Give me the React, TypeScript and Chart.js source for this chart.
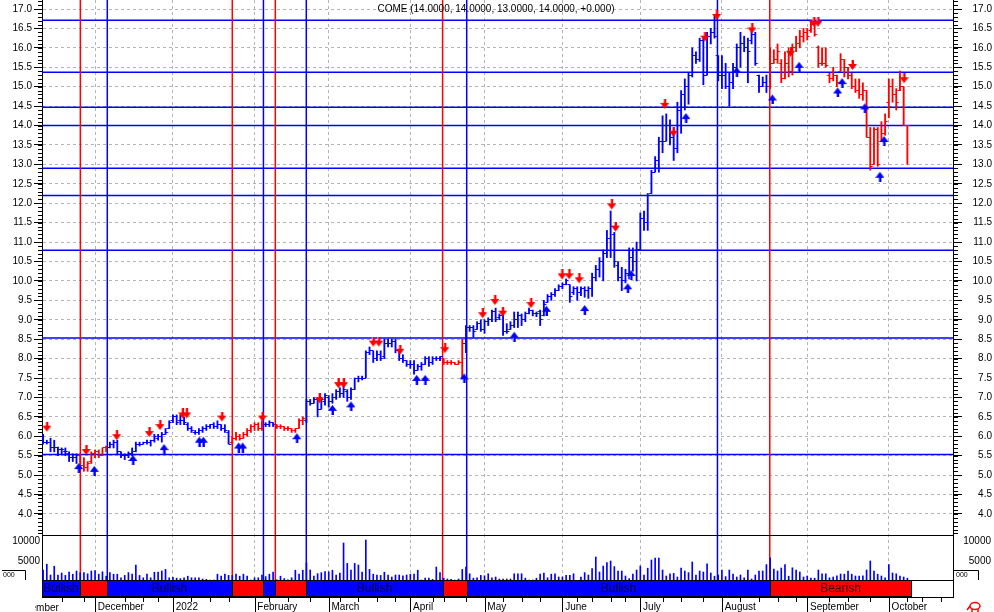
import React, { useEffect, useRef } from 'react';
import { Chart, registerables } from 'chart.js';

Chart.register(...registerables);

// ---------------- DATA ----------------
const opens = [
  5.85,5.85,5.85,5.7,5.7,5.65,5.6,5.55,5.45,5.45,
  5.5,5.25,5.2,5.35,5.55,5.6,5.5,5.7,5.7,5.8,
  5.85,5.6,5.5,5.5,5.55,5.6,5.8,5.8,5.85,5.85,
  5.9,5.95,6.0,6.05,6.2,6.4,6.5,6.4,6.4,6.3,
  6.2,6.1,6.1,6.15,6.2,6.25,6.3,6.25,6.3,6.2,
  6.1,5.85,5.95,6.0,5.95,6.05,6.15,6.25,6.3,6.2,
  6.3,6.3,6.35,6.3,6.25,6.25,6.2,6.2,6.15,6.2,
  6.4,6.4,6.9,6.85,6.95,6.7,6.9,7.0,6.9,7.0,
  7.15,7.1,7.15,7.0,7.2,7.5,7.5,7.5,8.15,8.2,
  8.0,8.1,8.05,8.4,8.4,8.45,8.2,8.0,7.95,7.85,
  7.85,7.7,7.8,7.85,8.0,7.9,8.0,8.0,8.0,7.9,
  7.9,7.9,7.85,7.9,8.4,8.8,8.8,8.75,8.9,8.75,
  8.95,9.0,9.2,9.05,9.1,8.7,8.75,8.85,9.0,9.1,
  9.0,9.15,9.25,9.15,9.2,9.1,9.45,9.6,9.65,9.75,
  9.85,9.9,9.9,9.7,9.8,9.7,9.8,9.75,9.8,10.1,
  10.3,10.5,10.7,11.1,11.2,10.4,10.1,10.0,10.2,10.6,
  10.5,10.8,11.6,11.5,12.25,12.8,13.1,13.6,13.6,14.0,
  13.7,13.4,14.4,14.8,15.0,15.3,15.8,15.7,16.2,15.3,
  16.3,16.4,15.8,15.3,15.3,15.0,15.1,15.5,16.0,16.1,
  16.0,16.2,16.35,15.3,15.0,15.1,15.0,15.6,15.7,15.6,
  15.2,15.6,15.4,16.0,16.1,16.3,16.4,16.45,16.6,16.0,
  15.6,15.6,15.3,15.2,15.3,15.4,15.7,15.5,15.3,15.0,
  14.9,14.8,14.9,13.7,13.0,13.9,13.6,13.8,14.6,15.0,
  14.8,14.9,15.0,14.0,
];
const highs = [
  6.05,5.9,5.95,5.9,5.72,5.7,5.7,5.6,5.55,5.55,
  5.55,5.45,5.35,5.6,5.65,5.65,5.7,5.75,5.85,5.9,
  5.9,5.6,5.55,5.6,5.7,5.85,5.85,5.85,5.9,5.9,
  6.05,6.05,6.1,6.2,6.4,6.55,6.55,6.55,6.5,6.35,
  6.25,6.15,6.2,6.25,6.3,6.3,6.35,6.4,6.3,6.3,
  6.15,6.0,6.1,6.05,6.1,6.2,6.3,6.35,6.35,6.4,
  6.35,6.4,6.35,6.3,6.3,6.25,6.25,6.2,6.2,6.45,
  6.5,6.95,6.95,7.0,7.0,7.0,7.1,7.05,7.1,7.2,
  7.25,7.3,7.2,7.25,7.5,7.55,7.55,8.2,8.3,8.2,
  8.2,8.2,8.5,8.5,8.5,8.5,8.2,8.1,7.95,7.95,
  7.95,7.85,7.9,8.05,8.05,8.05,8.05,8.05,8.0,7.95,
  7.95,7.9,7.95,8.5,8.85,8.85,8.85,8.95,9.0,9.0,
  9.05,9.25,9.3,9.15,9.15,8.9,8.95,9.2,9.2,9.15,
  9.2,9.3,9.25,9.2,9.25,9.5,9.65,9.7,9.8,9.9,
  9.95,10.05,9.9,9.85,9.85,9.85,9.85,9.85,10.2,10.4,
  10.6,10.8,11.3,11.8,11.25,10.5,10.35,10.3,10.85,10.85,
  11.0,11.75,11.8,12.25,12.85,13.2,13.7,14.25,14.3,14.15,
  13.9,14.6,14.9,15.2,15.35,16.0,15.9,16.25,16.25,16.4,
  16.5,16.85,15.8,15.8,15.6,15.35,15.6,16.1,16.4,16.3,
  16.25,16.45,16.4,15.3,15.25,15.3,16.0,15.95,16.1,15.7,
  15.9,16.0,16.1,16.3,16.45,16.5,16.5,16.7,16.6,16.05,
  16.0,16.0,15.35,15.5,15.3,15.85,15.7,15.5,15.35,15.2,
  15.2,15.1,14.9,13.95,13.95,13.95,14.1,14.3,15.2,15.2,
  14.95,15.4,15.0,14.0,
];
const lows = [
  5.8,5.8,5.6,5.6,5.5,5.55,5.5,5.35,5.35,5.3,
  5.15,5.1,5.1,5.3,5.45,5.45,5.5,5.6,5.7,5.7,
  5.55,5.45,5.4,5.45,5.5,5.6,5.75,5.8,5.8,5.75,
  5.85,5.9,5.85,6.05,6.2,6.35,6.3,6.3,6.3,6.15,
  6.1,6.05,6.05,6.1,6.15,6.2,6.2,6.2,6.15,6.1,
  5.8,5.8,5.9,5.9,5.95,6.0,6.1,6.15,6.15,6.15,
  6.25,6.25,6.25,6.2,6.2,6.15,6.15,6.1,6.1,6.2,
  6.3,6.35,6.8,6.85,6.5,6.7,6.8,6.75,6.85,6.95,
  7.0,7.0,6.9,6.95,7.2,7.4,7.45,7.5,8.1,7.9,
  7.95,7.95,8.0,8.3,8.3,8.15,7.95,7.9,7.8,7.75,
  7.6,7.7,7.7,7.85,7.8,7.85,7.95,7.95,7.85,7.85,
  7.85,7.85,7.85,7.5,8.15,8.7,8.55,8.75,8.7,8.65,
  8.85,8.95,8.95,9.0,8.6,8.65,8.75,8.8,8.8,8.85,
  8.95,9.15,9.1,9.08,8.85,9.1,9.45,9.5,9.6,9.75,
  9.8,9.9,9.45,9.65,9.5,9.62,9.58,9.55,9.6,10.0,
  10.1,10.0,10.6,10.6,10.35,10.0,9.75,9.95,10.05,10.25,
  10.0,10.8,11.3,11.3,12.25,12.8,12.8,13.3,13.6,13.5,
  13.1,13.3,13.8,14.4,14.55,15.25,15.6,15.65,15.05,15.3,
  16.1,16.25,15.15,14.95,14.95,14.5,14.95,15.35,15.5,15.9,
  15.1,16.1,15.55,14.85,15.0,14.85,14.95,15.6,15.6,15.1,
  15.2,15.25,15.3,15.9,16.0,16.15,16.2,16.4,16.3,15.5,
  15.55,15.5,15.1,15.15,15.0,15.4,15.25,15.2,14.95,14.85,
  14.7,14.65,13.7,12.85,13.0,12.95,13.6,13.75,14.2,14.6,
  14.4,14.9,14.0,13.0,
];
const closes = [
  5.85,5.85,5.72,5.7,5.65,5.65,5.6,5.45,5.45,5.5,
  5.25,5.2,5.3,5.55,5.6,5.5,5.7,5.7,5.8,5.85,
  5.6,5.5,5.5,5.55,5.6,5.8,5.8,5.85,5.85,5.9,
  6.0,6.0,6.05,6.1,6.35,6.5,6.35,6.4,6.35,6.2,
  6.15,6.1,6.15,6.2,6.25,6.3,6.25,6.3,6.2,6.15,
  5.8,5.95,6.0,5.95,6.05,6.15,6.25,6.3,6.2,6.3,
  6.3,6.35,6.3,6.25,6.25,6.2,6.2,6.15,6.2,6.4,
  6.45,6.9,6.85,6.95,6.7,6.95,7.05,6.9,7.0,7.15,
  7.1,7.2,7.0,7.2,7.5,7.5,7.5,8.15,8.2,8.0,
  8.1,8.0,8.4,8.4,8.45,8.2,8.0,7.95,7.85,7.85,
  7.7,7.8,7.85,8.0,7.9,8.0,8.0,8.05,7.9,7.9,
  7.9,7.85,7.9,8.4,8.8,8.8,8.7,8.9,8.75,8.95,
  9.0,9.2,9.0,9.1,8.7,8.7,8.85,9.0,9.1,9.0,
  9.15,9.25,9.15,9.15,9.0,9.4,9.6,9.65,9.75,9.85,
  9.9,10.0,9.6,9.8,9.7,9.8,9.75,9.8,10.1,10.3,
  10.5,10.7,11.1,11.4,10.5,10.1,10.0,10.2,10.6,10.5,
  10.8,11.6,11.5,12.2,12.8,13.1,13.6,13.6,14.0,13.7,
  13.4,14.4,14.8,15.0,15.3,15.8,15.7,16.2,15.3,16.3,
  16.4,16.3,15.3,15.3,15.0,15.1,15.5,16.0,16.1,16.0,
  15.9,16.35,15.6,15.0,15.1,15.0,15.6,15.7,15.9,15.2,
  15.6,15.4,16.0,16.1,16.3,16.4,16.3,16.6,16.35,15.6,
  15.6,15.55,15.2,15.3,15.1,15.7,15.5,15.3,15.0,14.9,
  14.8,14.9,13.7,12.95,13.9,13.0,13.8,14.1,15.0,14.8,
  14.6,15.0,14.0,14.0,
];
const volumes = [
  2700,4200,1500,3700,1500,2000,1400,2200,1700,2500,
  2100,2100,1800,2500,2600,1700,2300,1200,2100,1700,
  1700,800,1400,2100,1700,4000,1400,800,1700,800,
  2200,2200,2500,2900,800,900,700,600,800,1200,
  800,800,800,500,400,250,250,1700,1200,1700,
  1400,1400,1700,1200,1700,1200,250,800,800,1500,
  1100,1700,2200,300,1200,600,300,800,2700,1700,
  2700,4500,2750,1250,1830,2080,2330,2300,2700,1500,
  2000,9500,4400,2700,4400,4000,2200,10250,2900,1700,
  1500,1400,2200,1500,1000,1500,1500,1300,1500,1700,
  1700,2700,250,700,700,400,3500,2100,700,500,
  400,250,500,2900,3500,1800,700,800,1400,1300,
  1800,800,1000,500,500,500,500,1800,1800,1800,
  700,250,250,700,1700,2000,800,1700,1800,1000,
  1000,1400,1400,1800,170,1000,2100,1500,3100,6000,
  2250,3750,4600,5000,3600,2500,2500,1250,600,1700,
  2750,3750,1500,3200,5250,5750,5700,2750,1250,1800,
  1900,1000,3250,2500,2100,4750,1500,2500,2250,4300,
  2000,1200,1500,2750,1100,2750,1750,1000,1500,800,
  2750,500,1500,2500,2500,4100,5800,3000,2500,3250,
  4100,1200,3300,2750,2250,1000,1250,700,700,2750,
  1800,1800,800,1000,1300,1750,1700,2500,1700,1250,
  1250,1300,2750,5000,2500,1700,1250,800,4100,2000,
  1800,1250,1000,700,
];

// signal arrows (bar position, price at the arrow tip)
const sellArrowX = [1, 11.6, 19.85, 28.6, 31.5, 37.6, 38.7, 48.2, 59.1, 74.5, 79.6, 81, 89, 90.5, 96.2, 108.3, 118.5, 121.8, 123.9, 131.5, 139.9, 141.8, 144.5, 153.3, 154.3, 167.6, 169.9, 178.4, 181.6, 191.1, 201.5, 207.8, 208.9, 218.2, 232.1];
const sellArrowY = [6.12, 5.52, 5.9, 5.98, 6.16, 6.46, 6.46, 6.38, 6.38, 6.85, 7.24, 7.24, 8.31, 8.31, 8.1, 8.14, 9.04, 9.38, 9.08, 9.3, 10.04, 10.04, 9.94, 11.84, 11.27, 14.43, 13.71, 16.16, 16.72, 16.37, 15.77, 16.54, 16.54, 15.43, 15.09];
const buyArrowX = [9.6, 13.8, 24.2, 32.6, 42.1, 43.2, 52.7, 53.8, 68.4, 78, 83, 100.7, 103, 113.5, 127, 135.7, 146, 157.6, 158.5, 173.3, 187, 196.6, 203.8, 214.2, 215.4, 221.5, 225.6, 226.7];
const buyArrowY = [5.31, 5.24, 5.52, 5.8, 5.99, 5.99, 5.84, 5.84, 6.08, 6.81, 6.9, 7.58, 7.58, 7.62, 8.69, 9.36, 9.38, 9.94, 10.28, 14.32, 15.51, 14.8, 15.64, 14.98, 15.22, 14.57, 12.81, 13.73];

// horizontal support / resistance levels
const supportLevels = [16.71, 15.37, 14.47, 14.0, 12.9, 12.2, 10.79, 8.53, 5.53];
// vertical trend-change lines (bar position) and colour
const signalLineX = [10.04, 17.3, 51.0, 59.4, 62.6, 70.95, 107.7, 114.2, 181.8, 195.9];
const signalLineColor = ['red', 'blue', 'red', 'blue', 'red', 'blue', 'red', 'blue', 'blue', 'red'];
// trend band
const bandEdges = [-0.3, 10.04, 17.3, 51.0, 59.4, 62.6, 70.95, 107.7, 114.2, 195.9, 233.9];
const bandTrend = ['Bullish', 'Bearish', 'Bullish', 'Bearish', 'Bullish', 'Bearish', 'Bullish', 'Bearish', 'Bullish', 'Bearish'];

// axes
const monthTickIdx = [14, 35, 57, 77, 99, 119, 140, 161, 183, 206, 228];
const monthLabels = ['December', '2022', 'February', 'March', 'April', 'May', 'June', 'July', 'August', 'September', 'October'];
const leadMonthIdx = -9;
const leadMonthLabel = 'November';
const weekTickIdx = [5, 11, 22, 27, 31, 40, 45, 50, 61, 66, 72, 80, 85, 90, 95, 105, 108, 114, 124, 129, 134, 144, 148, 153, 157, 167, 172, 178, 188, 193, 198, 203, 212, 217, 223, 233, 237, 242];
const priceTicks = [4.0, 4.5, 5.0, 5.5, 6.0, 6.5, 7.0, 7.5, 8.0, 8.5, 9.0, 9.5, 10.0, 10.5, 11.0, 11.5, 12.0, 12.5, 13.0, 13.5, 14.0, 14.5, 15.0, 15.5, 16.0, 16.5, 17.0];
const volumeTicks = [5000, 10000];
const volumeTickLabels = ['5000', '10000'];
const titleText = 'COME (14.0000, 14.0000, 13.0000, 14.0000, +0.000)';

// ---------------- STYLE ----------------
const BLUE = '#0000ff';
const RED = '#ff0000';
const FONT = '"Liberation Sans", Arial, sans-serif';
const PRICE_PANEL_BOTTOM = 535;
const BAND_H = 17;

function trendAt(i: number) {
  const p = i + 0.2;
  for (let k = 0; k < bandTrend.length; k++) {
    if (p >= bandEdges[k] && p < bandEdges[k + 1]) return bandTrend[k];
  }
  return 'Bullish';
}

function makeCanvas(w: number, h: number, draw: (g: CanvasRenderingContext2D) => void) {
  const c = document.createElement('canvas');
  c.width = w;
  c.height = h;
  const g = c.getContext('2d') as CanvasRenderingContext2D;
  draw(g);
  return c;
}

const overlay = {
  id: 'overlay',
  beforeDatasetsDraw(chart: any) {
    const { ctx, chartArea: a, scales } = chart;
    const xs = scales.x;
    const ys = scales.y;
    const bandTop = a.bottom - BAND_H;
    ctx.save();
    ctx.lineWidth = 1.5;
    ctx.strokeStyle = BLUE;
    for (const p of supportLevels) {
      const py = ys.getPixelForValue(p);
      ctx.beginPath();
      ctx.moveTo(a.left, py);
      ctx.lineTo(a.right, py);
      ctx.stroke();
    }
    signalLineX.forEach((v, k) => {
      const px = xs.getPixelForValue(v);
      ctx.strokeStyle = signalLineColor[k] === 'red' ? RED : BLUE;
      ctx.beginPath();
      ctx.moveTo(px, a.top);
      ctx.lineTo(px, bandTop);
      ctx.stroke();
    });
    ctx.restore();
  },
  afterDatasetsDraw(chart: any) {
    const { ctx, chartArea: a, scales } = chart;
    const xs = scales.x;
    const ys = scales.y;
    const vs = scales.yV;
    const bandTop = a.bottom - BAND_H;
    ctx.save();

    // panel separator
    ctx.fillStyle = '#000';
    ctx.fillRect(a.left, PRICE_PANEL_BOTTOM, a.right - a.left, 1);

    // band
    ctx.fillStyle = '#fff';
    ctx.fillRect(a.left, bandTop, a.right - a.left, BAND_H);
    ctx.fillStyle = '#000';
    ctx.fillRect(a.left, bandTop, a.right - a.left, 1);
    ctx.font = `12px ${FONT}`;
    ctx.textAlign = 'center';
    ctx.textBaseline = 'middle';
    for (let k = 0; k < bandTrend.length; k++) {
      const x1 = Math.round(xs.getPixelForValue(bandEdges[k]));
      const x2 = Math.round(xs.getPixelForValue(bandEdges[k + 1]));
      const bear = bandTrend[k] === 'Bearish';
      ctx.fillStyle = bear ? RED : BLUE;
      ctx.fillRect(x1, bandTop, x2 - x1, BAND_H);
      ctx.strokeStyle = '#000';
      ctx.lineWidth = 1;
      ctx.strokeRect(x1 + 0.5, bandTop + 0.5, x2 - x1, BAND_H - 1);
      const label = bandTrend[k];
      const w = ctx.measureText(label).width;
      if (w + 2 <= x2 - x1) {
        ctx.fillStyle = bear ? '#3a0000' : '#00003a';
        ctx.fillText(label, (x1 + x2) / 2, bandTop + BAND_H / 2 + 0.5);
      }
    }

    // minor price ticks
    ctx.fillStyle = '#000';
    for (let t = 35; t <= 172; t++) {
      const py = Math.round(ys.getPixelForValue(t / 10));
      if (py < a.top || py > PRICE_PANEL_BOTTOM - 1) continue;
      ctx.fillRect(a.left - 4, py, 4, 1);
      ctx.fillRect(a.right, py, 5, 1);
    }

    // x-axis tick marks
    const axTop = a.bottom;
    for (const v of monthTickIdx) {
      const px = Math.round(xs.getPixelForValue(v));
      ctx.fillRect(px, axTop, 1, 15);
    }
    for (const v of weekTickIdx) {
      const px = Math.round(xs.getPixelForValue(v));
      ctx.fillRect(px, axTop, 1, 5);
    }
    // leading (clipped) month label
    ctx.save();
    ctx.beginPath();
    ctx.rect(35, axTop, 60, 15);
    ctx.clip();
    ctx.font = `10px ${FONT}`;
    ctx.textAlign = 'left';
    ctx.textBaseline = 'middle';
    ctx.fillText(leadMonthLabel, xs.getPixelForValue(leadMonthIdx) + 3, axTop + 11);
    ctx.restore();

    // volume labels
    ctx.font = `10px ${FONT}`;
    ctx.fillStyle = '#000';
    ctx.textBaseline = 'middle';
    volumeTicks.forEach((v, k) => {
      const py = vs.getPixelForValue(v);
      ctx.textAlign = 'right';
      ctx.fillText(volumeTickLabels[k], a.left - 2, py);
      ctx.fillText(volumeTickLabels[k], 991, py);
    });

    // small scale boxes
    ctx.strokeStyle = '#000';
    ctx.lineWidth = 1;
    ctx.beginPath();
    ctx.moveTo(2, 570.5); ctx.lineTo(25.5, 570.5); ctx.lineTo(25.5, bandTop);
    ctx.moveTo(954, 570.5); ctx.lineTo(978.5, 570.5); ctx.lineTo(978.5, bandTop);
    ctx.stroke();
    ctx.font = `7px ${FONT}`;
    ctx.textAlign = 'left';
    ctx.fillText('000', 3, 575);
    ctx.fillText('000', 956, 575);

    // small red logo
    ctx.strokeStyle = RED;
    ctx.lineWidth = 1.5;
    ctx.beginPath();
    ctx.ellipse(975, 606, 5, 3.5, 0, 0, Math.PI * 2);
    ctx.moveTo(970, 606); ctx.lineTo(967, 610);
    ctx.moveTo(972, 609); ctx.lineTo(972, 612);
    ctx.moveTo(978, 609); ctx.lineTo(978, 612);
    ctx.stroke();

    // title
    ctx.font = `10px ${FONT}`;
    ctx.textAlign = 'center';
    ctx.textBaseline = 'middle';
    ctx.fillStyle = '#000';
    ctx.fillText(titleText, 496, 9);

    ctx.restore();
  },
};

export default function App() {
  const ref = useRef<HTMLCanvasElement>(null);

  useEffect(() => {
    const canvas = ref.current as HTMLCanvasElement;

    const tickLeft = (col: string) => makeCanvas(8, 1, (g) => { g.fillStyle = col; g.fillRect(1.5, 0, 2.5, 1); });
    const tickRight = (col: string) => makeCanvas(8, 1, (g) => { g.fillStyle = col; g.fillRect(4, 0, 2.5, 1); });
    const openBlue = tickLeft(BLUE), openRed = tickLeft(RED);
    const closeBlue = tickRight(BLUE), closeRed = tickRight(RED);

    // arrow glyphs: tip sits at the canvas centre (row 10)
    const downArrow = makeCanvas(9, 20, (g) => {
      g.fillStyle = RED;
      g.fillRect(3, 0, 3, 5);
      g.beginPath(); g.moveTo(0, 4); g.lineTo(9, 4); g.lineTo(4.5, 10); g.closePath(); g.fill();
      g.fillStyle = '#ff9a9a';
      g.fillRect(3, 0, 1, 4);
    });
    const upArrow = makeCanvas(9, 20, (g) => {
      g.fillStyle = BLUE;
      g.fillRect(3, 15, 3, 5);
      g.beginPath(); g.moveTo(0, 16); g.lineTo(9, 16); g.lineTo(4.5, 10); g.closePath(); g.fill();
      g.fillStyle = '#8a8aff';
      g.fillRect(3, 16, 1, 4);
    });

    const colorAt = (i: number) => (trendAt(i) === 'Bearish' ? RED : BLUE);
    const tickFont = { family: FONT, size: 10 };

    const priceScaleCommon = {
      type: 'linear',
      min: 1.8633,
      max: 17.2317,
      afterBuildTicks: (s: any) => { s.ticks = priceTicks.map((v) => ({ value: v })); },
    };

    const chart = new Chart(canvas, {
      type: 'bar',
      data: {
        datasets: [
          {
            type: 'scatter',
            label: 'sell',
            data: sellArrowX.map((x, k) => ({ x, y: sellArrowY[k] })),
            pointStyle: downArrow,
            pointRadius: 4,
            yAxisID: 'y',
            order: 0,
          },
          {
            type: 'scatter',
            label: 'buy',
            data: buyArrowX.map((x, k) => ({ x, y: buyArrowY[k] })),
            pointStyle: upArrow,
            pointRadius: 4,
            yAxisID: 'y',
            order: 0,
          },
          {
            type: 'scatter',
            label: 'open',
            data: opens.map((v, i) => ({ x: i, y: v })),
            pointStyle: (c: any) => (trendAt(c.dataIndex) === 'Bearish' ? openRed : openBlue),
            pointRadius: 2,
            yAxisID: 'y',
            order: 1,
          },
          {
            type: 'scatter',
            label: 'close',
            data: closes.map((v, i) => ({ x: i, y: v })),
            pointStyle: (c: any) => (trendAt(c.dataIndex) === 'Bearish' ? closeRed : closeBlue),
            pointRadius: 2,
            yAxisID: 'y',
            order: 1,
          },
          {
            type: 'bar',
            label: 'range',
            data: highs.map((h, i) => ({ x: i, y: [lows[i], h] })),
            backgroundColor: (c: any) => colorAt(c.dataIndex),
            barThickness: 1.2,
            grouped: false,
            borderWidth: 0,
            yAxisID: 'y',
            order: 2,
          },
          {
            type: 'bar',
            label: 'volume',
            data: volumes.map((v, i) => ({ x: i, y: v })),
            backgroundColor: BLUE,
            barThickness: 1,
            grouped: false,
            borderWidth: 0,
            yAxisID: 'yV',
            order: 3,
          },
        ],
      } as any,
      options: {
        responsive: false,
        animation: false,
        devicePixelRatio: 1,
        events: [],
        layout: { autoPadding: false, padding: { top: 0, left: 0, right: 2, bottom: 0 } },
        plugins: { legend: { display: false }, tooltip: { enabled: false }, title: { display: false } },
        scales: {
          x: {
            type: 'linear',
            min: -0.3,
            max: 245.3,
            offset: false,
            position: 'bottom',
            afterBuildTicks: (s: any) => { s.ticks = monthTickIdx.map((v) => ({ value: v })); },
            afterFit: (s: any) => { s.height = 15; s.paddingLeft = 0; s.paddingRight = 0; },
            grid: { offset: false, color: '#b4b4b4', lineWidth: 1, drawTicks: false },
            border: { display: true, color: '#000', dash: [3, 3] },
            ticks: {
              align: 'start',
              autoSkip: false,
              maxRotation: 0,
              minRotation: 0,
              padding: 4,
              color: '#000',
              font: tickFont,
              callback: (_v: any, idx: number) => ' ' + monthLabels[idx],
            },
          },
          y: {
            ...priceScaleCommon,
            position: 'left',
            afterFit: (s: any) => { s.width = 42; s.paddingTop = 0; s.paddingBottom = 0; },
            grid: { color: '#b4b4b4', lineWidth: 1, tickLength: 8, tickColor: '#000', tickWidth: 1, tickBorderDash: [] },
            border: { display: true, color: '#000', dash: [3, 3] },
            ticks: {
              autoSkip: false,
              padding: 2,
              color: '#000',
              font: tickFont,
              callback: (v: any) => Number(v).toFixed(1),
            },
          },
          yR: {
            ...priceScaleCommon,
            position: 'right',
            afterFit: (s: any) => { s.width = 39; s.paddingTop = 0; s.paddingBottom = 0; },
            grid: { drawOnChartArea: false, tickLength: 9, tickColor: '#000', tickWidth: 1, tickBorderDash: [] },
            border: { display: true, color: '#000' },
            ticks: {
              autoSkip: false,
              crossAlign: 'far',
              padding: 2,
              color: '#000',
              font: tickFont,
              callback: (v: any) => Number(v).toFixed(1),
            },
          },
          yV: {
            type: 'linear',
            display: false,
            min: -4000,
            max: 145250,
          },
        },
      } as any,
      plugins: [overlay as any],
    });

    return () => chart.destroy();
  }, []);

  return (
    <div style={{ position: 'fixed', left: 0, top: 0, width: 994, height: 612, background: '#fff' }}>
      <canvas ref={ref} width={994} height={612} style={{ display: 'block', width: 994, height: 612 }} />
    </div>
  );
}
